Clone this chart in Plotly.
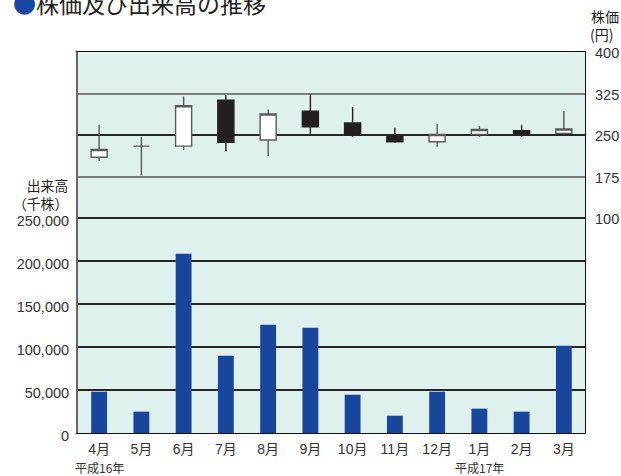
import plotly.graph_objects as go

months = ["4月", "5月", "6月", "7月", "8月", "9月", "10月", "11月", "12月", "1月", "2月", "3月"]
volume = [48000, 24800, 208500, 89900, 125900, 122400, 44500, 20100, 48000, 28300, 24800, 101500]
price_open = [210, 230, 230, 313, 241, 293, 272, 247, 238, 251, 258, 253]
price_high = [268, 246, 320, 322, 296, 324, 301, 263, 270, 266, 268, 293]
price_low = [203, 177, 223, 221, 212, 250, 247, 236, 229, 247, 246, 251]
price_close = [224, 230, 303, 237, 288, 265, 250, 238, 251, 260, 253, 261]
vol_ticks = [0, 50000, 100000, 150000, 200000, 250000]
vol_labels = [f"{v:,}" for v in vol_ticks]
price_ticks = [100, 175, 250, 325, 400]
price_grid_gray = [175, 325]
price_ref_line = 250

FONT = "Liberation Sans, Noto Sans CJK JP, sans-serif"
JP = "Noto Sans CJK JP, sans-serif"
TXT = "#333333"

vol_range = [0, 443000]
price_range = [-288, 400]
# the black 250-yen reference line, expressed on the volume axis scale
ref_on_vol = vol_range[1] * (price_ref_line - price_range[0]) / (price_range[1] - price_range[0])

fig = go.Figure()
fig.add_trace(go.Bar(
    x=months, y=volume, yaxis="y", width=0.375,
    marker=dict(color="#18469c", line=dict(width=0)),
    showlegend=False, hoverinfo="x+y",
))
fig.add_trace(go.Candlestick(
    x=months, open=price_open, high=price_high, low=price_low, close=price_close,
    yaxis="y2",
    increasing=dict(fillcolor="#ffffff", line=dict(color="#5a5a5a", width=1.4)),
    decreasing=dict(fillcolor="#231f20", line=dict(color="#231f20", width=1.4)),
    showlegend=False,
))

fig.update_layout(
    template="none",
    width=621, height=476,
    margin=dict(l=78, r=36, t=52, b=43, autoexpand=False),
    paper_bgcolor="#ffffff",
    plot_bgcolor="#dff1ec",
    font=dict(family=FONT, size=14, color=TXT),
    boxgap=0.62, boxgroupgap=0,
    showlegend=False,
    xaxis=dict(
        type="category", range=[-0.5, 11.5], rangeslider=dict(visible=False),
        showgrid=False, showline=True, linecolor="#111111", linewidth=1.2, mirror=True,
        ticks="", tickfont=dict(size=14, color=TXT), ticklabelstandoff=3,
        automargin=False, zeroline=False,
    ),
    yaxis=dict(
        range=vol_range, tickvals=vol_ticks + [ref_on_vol], ticktext=vol_labels + [""],
        showgrid=True, gridcolor="#262626", gridwidth=1.5, zeroline=False,
        showline=True, linecolor="#666666", linewidth=2,
        ticks="", tickfont=dict(size=14.5, color=TXT), ticklabelstandoff=4,
        ticklabelshift=3, automargin=False,
    ),
    yaxis2=dict(
        overlaying="y", side="right", range=price_range, tickvals=price_ticks,
        showgrid=False, zeroline=False,
        minor=dict(tickmode="array", tickvals=price_grid_gray, showgrid=True,
                   gridcolor="#7d7d7d", gridwidth=2, ticks=""),
        showline=True, linecolor="#111111", linewidth=1.2,
        ticks="", tickfont=dict(size=14.5, color=TXT), ticklabelstandoff=6,
        ticklabelshift=1, automargin=False,
    ),
)

annos = [
    dict(text="<span style='color:#1a47a0'>●</span>株価及び出来高の推移",
         xref="paper", yref="paper", x=(11 - 78) / 507, y=(433.3 - 3) / 381,
         xanchor="left", yanchor="middle", showarrow=False,
         font=dict(family=JP, size=23, color="#231f20")),
    dict(text="株価", xref="paper", yref="paper", x=(589 - 78) / 507, y=(433.3 - 16) / 381,
         xanchor="left", yanchor="middle", showarrow=False,
         font=dict(family=JP, size=14, color="#231f20")),
    dict(text="(円)", xref="paper", yref="paper", x=(588 - 78) / 507, y=(433.3 - 34) / 381,
         xanchor="left", yanchor="middle", showarrow=False,
         font=dict(family=JP, size=14, color="#231f20")),
    dict(text="出来高<br>（千株）", xref="paper", yref="paper", x=(70 - 78) / 507,
         y=(433.3 - 194) / 381, xanchor="right", yanchor="middle", align="right",
         showarrow=False, font=dict(family=JP, size=13.8, color="#231f20")),
    dict(text="平成16年", xref="x", yref="paper", x=months[0], y=(433.3 - 468) / 381,
         xanchor="center", yanchor="middle", showarrow=False,
         font=dict(family=JP, size=12, color=TXT)),
    dict(text="平成17年", xref="x", yref="paper", x=months[9], y=(433.3 - 468) / 381,
         xanchor="center", yanchor="middle", showarrow=False,
         font=dict(family=JP, size=12, color=TXT)),
]
fig.update_layout(annotations=annos)

fig.write_html("out.html", config={"displayModeBar": False},
               post_script="document.body.style.margin='0';")
